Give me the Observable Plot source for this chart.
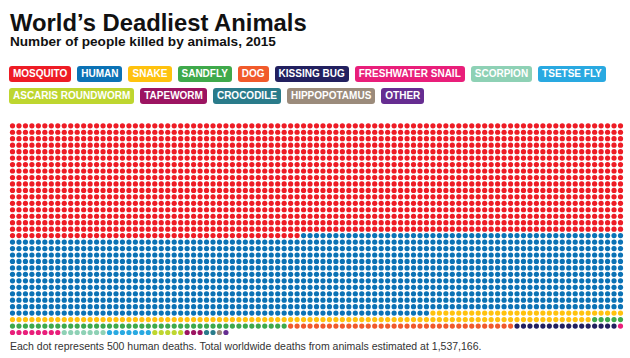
<!DOCTYPE html>
<html>
<head>
<meta charset="utf-8">
<script src="https://cdn.jsdelivr.net/npm/d3@7"></script>
<script src="https://cdn.jsdelivr.net/npm/@observablehq/plot@0.6"></script>
<style>
  html, body { margin: 0; padding: 0; background: #fff; }
  body { width: 630px; height: 358px; position: relative; overflow: hidden; font-family: "Liberation Sans", Arial, Helvetica, sans-serif; }
  #title { position: absolute; left: 10px; top: 10.7px; font-size: 23.8px; line-height: 23.8px; font-weight: bold; color: #111; white-space: nowrap; }
  #subtitle { position: absolute; left: 10px; top: 35.2px; font-size: 13.6px; line-height: 13.6px; font-weight: bold; color: #111; white-space: nowrap; }
  #legend { position: absolute; left: 9px; top: 66px; width: 615px; display: flex; flex-wrap: wrap; column-gap: 6px; row-gap: 6px; }
  .badge { height: 16px; line-height: 16px; padding: 0 4px; border-radius: 3px; color: #fff; font-size: 10px; font-weight: bold; white-space: nowrap; }
  #chart { position: absolute; left: 0; top: 112px; }
  #caption { position: absolute; left: 10px; top: 340.6px; font-size: 10.5px; line-height: 10.5px; color: #333; white-space: nowrap; }
</style>
</head>
<body>
<div id="title">World’s Deadliest Animals</div>
<div id="subtitle">Number of people killed by animals, 2015</div>
<div id="legend"></div>
<div id="chart"></div>
<div id="caption">Each dot represents 500 human deaths. Total worldwide deaths from animals estimated at 1,537,166.</div>
<script>
// Categories (in legend / fill order)
const animals = ["MOSQUITO", "HUMAN", "SNAKE", "SANDFLY", "DOG", "KISSING BUG", "FRESHWATER SNAIL", "SCORPION", "TSETSE FLY", "ASCARIS ROUNDWORM", "TAPEWORM", "CROCODILE", "HIPPOPOTAMUS", "OTHER"];
// Deaths per category, 2015 (read from the dot counts, 500 deaths per dot)
const deaths = [830000, 580000, 60000, 24000, 17500, 8000, 4500, 3500, 3500, 2500, 1500, 1000, 500, 500];
const colors = ["#ee1c25", "#0b72b5", "#ffc20e", "#3fa94b", "#f15a2b", "#22205f", "#e91e7a", "#8ed1b5", "#29a9e1", "#bed62f", "#9c1461", "#2a7b8a", "#9b8b7b", "#662d91"];
const deathsPerDot = 500;
const columns = 95;

// Legend badges
const legend = document.getElementById("legend");
animals.forEach((a, i) => {
  const b = document.createElement("div");
  b.className = "badge";
  b.style.background = colors[i];
  b.textContent = a;
  legend.appendChild(b);
});

// Build dot table
const dots = [];
let k = 0;
animals.forEach((a, i) => {
  const n = Math.round(deaths[i] / deathsPerDot);
  for (let j = 0; j < n; j++, k++) {
    dots.push({animal: a, col: k % columns, row: Math.floor(k / columns)});
  }
});
const rows = Math.ceil(k / columns);

const chart = Plot.plot({
  width: 630,
  height: 230,
  marginLeft: 12,
  marginRight: 10,
  marginTop: 13.3,
  marginBottom: 10,
  x: {domain: [0, columns - 1], axis: null},
  y: {domain: [0, rows - 1], axis: null, reverse: true},
  color: {type: "ordinal", domain: animals, range: colors},
  marks: [
    Plot.dot(dots, {x: "col", y: "row", fill: "animal", r: 2.6, stroke: "none"})
  ]
});
document.getElementById("chart").appendChild(chart);
</script>
</body>
</html>
